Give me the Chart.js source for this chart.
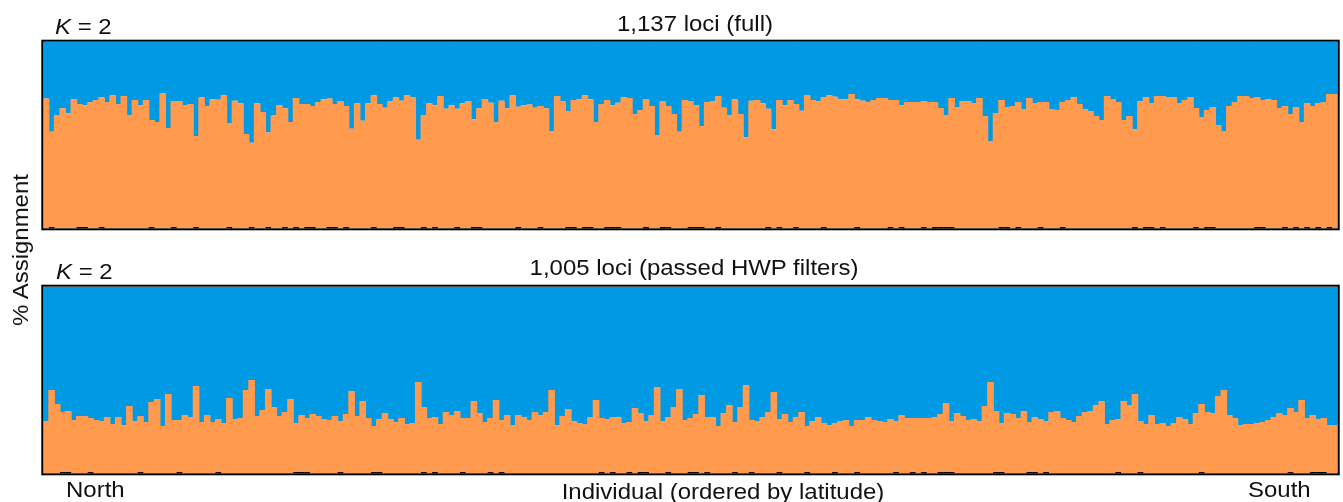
<!DOCTYPE html>
<html>
<head>
<meta charset="utf-8">
<script src="https://cdn.jsdelivr.net/npm/chart.js@4.4.1/dist/chart.umd.min.js"></script>
<style>
  html, body { margin: 0; padding: 0; background: #ffffff; }
  #wrap { position: relative; width: 1343px; height: 502px; overflow: hidden; font-family: "Liberation Sans", Arial, Helvetica, sans-serif; color: #111; }
  canvas { position: absolute; left: 0; }
  .t { position: absolute; font-size: 22px; line-height: 22px; white-space: nowrap; }
  .l { transform-origin: left center; transform: scaleX(1.09); }
  .c { transform: translateX(-50%) scaleX(1.09); }
  .v { transform: translate(-50%, -50%) rotate(-90deg) scaleX(1.09); }
</style>
</head>
<body>
<div id="wrap">
  <canvas id="c1" width="1343" height="250" style="top:0px"></canvas>
  <canvas id="c2" width="1343" height="252" style="top:250px"></canvas>

  <div class="t l" style="left:55px; top:16px;"><i>K</i> = 2</div>
  <div class="t c" style="left:695px; top:13px;">1,137 loci (full)</div>

  <div class="t l" style="left:56px; top:261px;"><i>K</i> = 2</div>
  <div class="t c" style="left:694px; top:257px;">1,005 loci (passed HWP filters)</div>

  <div class="t v" style="left:21px; top:250px;">% Assignment</div>

  <div class="t l" style="left:66px; top:479px;">North</div>
  <div class="t c" style="left:723px; top:481px;">Individual (ordered by latitude)</div>
  <div class="t l" style="left:1248px; top:479px;">South</div>
</div>

<script>
// ---- Data: orange-cluster assignment proportion per individual (ordered North -> South) ----
const fullLociOrange = [
  0.696,0.518,0.607,0.643,0.616,0.693,0.666,0.659,0.675,0.688,
  0.702,0.677,0.713,0.666,0.709,0.607,0.688,0.661,0.688,0.580,
  0.570,0.723,0.538,0.682,0.682,0.661,0.666,0.495,0.702,0.655,
  0.691,0.689,0.713,0.564,0.684,0.670,0.505,0.459,0.670,0.623,
  0.513,0.605,0.659,0.643,0.570,0.698,0.666,0.666,0.655,0.677,
  0.691,0.696,0.666,0.682,0.655,0.534,0.670,0.577,0.670,0.713,
  0.666,0.646,0.682,0.702,0.684,0.713,0.702,0.475,0.607,0.670,
  0.659,0.709,0.641,0.659,0.641,0.670,0.682,0.584,0.643,0.693,
  0.673,0.570,0.684,0.643,0.713,0.652,0.659,0.663,0.646,0.655,
  0.643,0.521,0.709,0.679,0.629,0.688,0.691,0.713,0.691,0.570,
  0.666,0.688,0.659,0.673,0.702,0.698,0.613,0.634,0.693,0.655,
  0.500,0.679,0.655,0.613,0.518,0.688,0.682,0.661,0.548,0.677,
  0.679,0.709,0.646,0.604,0.691,0.613,0.488,0.684,0.688,0.670,
  0.641,0.530,0.688,0.659,0.688,0.666,0.630,0.714,0.688,0.682,
  0.704,0.713,0.705,0.691,0.691,0.720,0.691,0.684,0.677,0.688,
  0.698,0.698,0.688,0.688,0.661,0.677,0.677,0.677,0.682,0.677,
  0.677,0.645,0.607,0.698,0.650,0.682,0.682,0.671,0.698,0.602,
  0.468,0.618,0.688,0.650,0.655,0.677,0.639,0.698,0.671,0.677,
  0.677,0.639,0.634,0.677,0.688,0.704,0.666,0.639,0.629,0.602,
  0.580,0.709,0.693,0.677,0.580,0.602,0.532,0.682,0.704,0.671,
  0.709,0.709,0.704,0.704,0.671,0.688,0.704,0.645,0.596,0.634,
  0.650,0.554,0.521,0.655,0.677,0.709,0.709,0.698,0.704,0.688,
  0.693,0.688,0.645,0.655,0.613,0.650,0.570,0.671,0.655,0.671,
  0.677,0.720,0.720
];

const hwpLociOrange = [
  0.280,0.446,0.371,0.329,0.334,0.286,0.307,0.307,0.296,0.286,
  0.280,0.302,0.264,0.302,0.259,0.361,0.280,0.307,0.275,0.382,
  0.398,0.254,0.425,0.286,0.286,0.313,0.302,0.468,0.275,0.313,
  0.275,0.291,0.270,0.404,0.291,0.296,0.446,0.500,0.307,0.339,
  0.452,0.355,0.307,0.329,0.398,0.270,0.313,0.296,0.318,0.307,
  0.291,0.286,0.307,0.280,0.318,0.441,0.307,0.388,0.296,0.254,
  0.291,0.323,0.291,0.275,0.296,0.264,0.270,0.489,0.355,0.296,
  0.302,0.264,0.329,0.313,0.334,0.296,0.296,0.388,0.323,0.275,
  0.296,0.393,0.286,0.313,0.259,0.313,0.302,0.286,0.329,0.313,
  0.329,0.446,0.259,0.307,0.345,0.280,0.270,0.264,0.302,0.393,
  0.296,0.291,0.302,0.302,0.270,0.275,0.350,0.323,0.280,0.313,
  0.463,0.280,0.302,0.355,0.452,0.286,0.296,0.318,0.420,0.302,
  0.302,0.254,0.323,0.366,0.275,0.355,0.473,0.286,0.280,0.302,
  0.329,0.436,0.291,0.318,0.275,0.302,0.329,0.254,0.280,0.302,
  0.270,0.259,0.270,0.280,0.286,0.254,0.286,0.286,0.302,0.286,
  0.280,0.275,0.291,0.280,0.313,0.296,0.296,0.296,0.296,0.296,
  0.302,0.318,0.377,0.280,0.323,0.307,0.286,0.291,0.280,0.361,
  0.489,0.334,0.270,0.323,0.318,0.296,0.334,0.275,0.302,0.291,
  0.280,0.329,0.334,0.296,0.286,0.275,0.307,0.329,0.334,0.366,
  0.388,0.264,0.286,0.291,0.388,0.366,0.425,0.280,0.264,0.313,
  0.264,0.270,0.254,0.270,0.302,0.291,0.264,0.323,0.371,0.329,
  0.323,0.414,0.446,0.313,0.296,0.259,0.264,0.264,0.270,0.275,
  0.286,0.302,0.323,0.313,0.350,0.329,0.393,0.296,0.313,0.291,
  0.296,0.259,0.259
];

// Individuals carrying a small black tick on the panel baseline (0-based index)
const fullLociTicks = [1,6,7,10,19,23,27,33,37,40,43,45,47,48,51,52,54,59,63,64,68,70,74,77,78,85,89,94,95,97,98,101,102,103,108,111,112,116,117,118,121,130,132,135,140,146,152,154,158,160,161,162,163,172,173,175,179,183,196,198,199,201,207,209,210,218,219,223,225,227,229,231];
const hwpLociTicks = [3,4,8,17,24,31,45,46,47,53,59,60,68,70,75,80,82,100,102,105,107,108,112,116,117,119,124,127,132,137,142,146,153,156,158,161,162,163,171,172,177,178,180,193,197,208,224,228,229,230];

const individuals = fullLociOrange.map((_, i) => String(i + 1));

const ORANGE = '#FF9A4F';
const BLUE = '#0099E3';

const frame = {
  id: 'frame',
  afterDatasetsDraw(chart, args, opts) {
    const { ctx, chartArea: a, scales } = chart;
    ctx.save();
    // baseline ticks
    ctx.fillStyle = '#000';
    const bw = (a.right - a.left) / individuals.length;
    (opts.ticks || []).forEach(i => {
      const cx = scales.x.getPixelForValue(i);
      ctx.fillRect(cx - bw / 2, a.bottom - 1.3, bw, 1.3);
    });
    ctx.strokeStyle = '#000';
    ctx.lineWidth = 2;
    ctx.strokeRect(a.left - 1, a.top - 1, a.right - a.left + 2, a.bottom - a.top + 2);
    ctx.restore();
  }
};

function makeChart(id, orange, ticks, pad) {
  const blue = orange.map(v => 1 - v);
  return new Chart(document.getElementById(id), {
    type: 'bar',
    data: {
      labels: individuals,
      datasets: [
        { label: 'Cluster 1', data: orange, backgroundColor: ORANGE, borderWidth: 0, barPercentage: 1.2, categoryPercentage: 1.0 },
        { label: 'Cluster 2', data: blue, backgroundColor: BLUE, borderWidth: 0, barPercentage: 1.2, categoryPercentage: 1.0 }
      ]
    },
    options: {
      responsive: false,
      animation: false,
      layout: { padding: pad },
      plugins: { legend: { display: false }, tooltip: { enabled: false }, title: { display: false }, frame: { ticks } },
      scales: {
        x: { stacked: true, display: false, offset: true, grid: { display: false } },
        y: { stacked: true, display: false, min: 0, max: 1 }
      }
    },
    plugins: [frame]
  });
}

makeChart('c1', fullLociOrange, fullLociTicks, { left: 43.3, right: 5.3, top: 41.7, bottom: 21.7 });
makeChart('c2', hwpLociOrange, hwpLociTicks, { left: 43.3, right: 5.3, top: 36.7, bottom: 28.7 });
</script>
</body>
</html>
